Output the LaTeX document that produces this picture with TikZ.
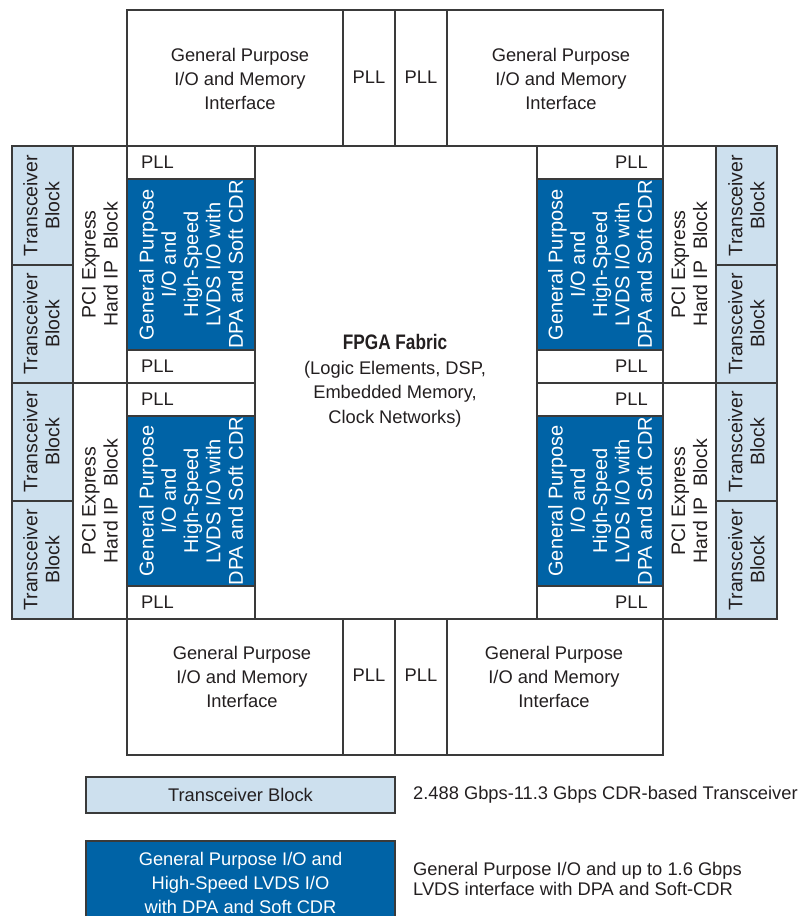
\documentclass[tikz,border=0pt]{standalone}
\usepackage{fontspec}
\setmainfont{Liberation Sans}
\newfontfamily\condfont[FakeStretch=0.82]{Liberation Sans}
\definecolor{ablue}{HTML}{0063A6}
\definecolor{lblue}{HTML}{CDE0EE}
\definecolor{lc}{HTML}{3A3A3A}
\definecolor{tc}{HTML}{231F20}
\newcommand\blk[6]{%
  \node[#6, minimum width={(#4-#2)*1pt}, minimum height={(#5-#3)*1pt}] (#1) at ({(#2+#4)/2},{(#3+#5)/2}) {};}
\begin{document}
\begin{tikzpicture}[x=1pt,y=-1pt,
  box/.style={draw=lc, line width=1.2pt, fill=white, inner sep=0pt, outer sep=0pt},
  bluebox/.style={box, fill=ablue},
  transbox/.style={box, fill=lblue, line width=1.5pt},
  txt/.style={inner sep=0pt, text=tc, font=\fontsize{18.3}{24}\selectfont, align=center},
  vtxt/.style={txt, rotate=90, font=\fontsize{19.5}{22}\selectfont},
  wtxt/.style={txt, rotate=90, text=white, font=\fontsize{20}{22.3}\selectfont},
]
\clip (0,0) rectangle (799,916);
% top row
\blk{gtl}{127}{10}{343}{146}{box}
\blk{ptl}{343}{10}{395}{146}{box}
\blk{ptr}{395}{10}{447}{146}{box}
\blk{gtr}{447}{10}{663}{146}{box}
% bottom row
\blk{gbl}{127}{619}{343}{755}{box}
\blk{pbl}{343}{619}{395}{755}{box}
\blk{pbr}{395}{619}{447}{755}{box}
\blk{gbr}{447}{619}{663}{755}{box}
% fabric
\blk{fabric}{255}{146}{537}{619}{box}
% left side
\blk{lp1}{127}{146}{255}{179}{box}
\blk{lb1}{127}{179}{255}{350}{bluebox}
\blk{lp2}{127}{350}{255}{383}{box}
\blk{lp3}{127}{383}{255}{416}{box}
\blk{lb2}{127}{416}{255}{586}{bluebox}
\blk{lp4}{127}{586}{255}{619}{box}
\blk{lpci1}{73}{146}{127}{383}{box}
\blk{lpci2}{73}{383}{127}{619}{box}
\blk{lt1}{12}{146}{73}{265}{transbox}
\blk{lt2}{12}{265}{73}{383}{transbox}
\blk{lt3}{12}{383}{73}{501}{transbox}
\blk{lt4}{12}{501}{73}{619}{transbox}
% right side
\blk{rp1}{537}{146}{663}{179}{box}
\blk{rb1}{537}{179}{663}{350}{bluebox}
\blk{rp2}{537}{350}{663}{383}{box}
\blk{rp3}{537}{383}{663}{416}{box}
\blk{rb2}{537}{416}{663}{586}{bluebox}
\blk{rp4}{537}{586}{663}{619}{box}
\blk{rpci1}{663}{146}{716}{383}{box}
\blk{rpci2}{663}{383}{716}{619}{box}
\blk{rt1}{716}{146}{777}{265}{transbox}
\blk{rt2}{716}{265}{777}{383}{transbox}
\blk{rt3}{716}{383}{777}{501}{transbox}
\blk{rt4}{716}{501}{777}{619}{transbox}
% legend
\blk{legt}{86}{777}{395}{813}{transbox}
\blk{legb}{86}{841}{395}{930}{bluebox}

% texts: top/bottom
\node[txt] (tgtl) at (240,79) {General Purpose\\I/O and Memory\\Interface};
\node[txt] (tgtr) at (561,79) {General Purpose\\I/O and Memory\\Interface};
\node[txt] (tgbl) at (242,677) {General Purpose\\I/O and Memory\\Interface};
\node[txt] (tgbr) at (554,677) {General Purpose\\I/O and Memory\\Interface};
\node[txt] (tptl) at (369,77) {PLL};
\node[txt] (tptr) at (421,77) {PLL};
\node[txt] (tpbl) at (369,675) {PLL};
\node[txt] (tpbr) at (421,675) {PLL};
% side PLLs
\node[txt, anchor=west] (tlp1) at (141,162.5) {PLL};
\node[txt, anchor=west] (tlp2) at (141,366.5) {PLL};
\node[txt, anchor=west] (tlp3) at (141,399.5) {PLL};
\node[txt, anchor=west] (tlp4) at (141,602.5) {PLL};
\node[txt, anchor=east] (trp1) at (648,162.5) {PLL};
\node[txt, anchor=east] (trp2) at (648,366.5) {PLL};
\node[txt, anchor=east] (trp3) at (648,399.5) {PLL};
\node[txt, anchor=east] (trp4) at (648,602.5) {PLL};
% blue texts
\node[wtxt] (tlb1) at (191,264.5) {General Purpose\\I/O and\\High-Speed\\LVDS I/O with\\DPA and Soft CDR};
\node[wtxt] (tlb2) at (191,501) {General Purpose\\I/O and\\High-Speed\\LVDS I/O with\\DPA and Soft CDR};
\node[wtxt] (trb1) at (600,264.5) {General Purpose\\I/O and\\High-Speed\\LVDS I/O with\\DPA and Soft CDR};
\node[wtxt] (trb2) at (600,501) {General Purpose\\I/O and\\High-Speed\\LVDS I/O with\\DPA and Soft CDR};
% PCIe texts
\node[vtxt] (tlpci1) at (100,264.5) {PCI Express\\Hard IP\ \ Block};
\node[vtxt] (tlpci2) at (100,501) {PCI Express\\Hard IP\ \ Block};
\node[vtxt] (trpci1) at (689.5,264.5) {PCI Express\\Hard IP\ \ Block};
\node[vtxt] (trpci2) at (689.5,501) {PCI Express\\Hard IP\ \ Block};
% transceiver texts
\node[vtxt] (tlt1) at (41.5,205.5) {Transceiver\\Block};
\node[vtxt] (tlt2) at (41.5,324) {Transceiver\\Block};
\node[vtxt] (tlt3) at (41.5,442) {Transceiver\\Block};
\node[vtxt] (tlt4) at (41.5,560) {Transceiver\\Block};
\node[vtxt] (trt1) at (746.5,205.5) {Transceiver\\Block};
\node[vtxt] (trt2) at (746.5,324) {Transceiver\\Block};
\node[vtxt] (trt3) at (746.5,442) {Transceiver\\Block};
\node[vtxt] (trt4) at (746.5,560) {Transceiver\\Block};
% fabric text
\node[txt, font=\fontsize{18.3}{24.5}\selectfont] (tfabric) at (395,381) {{\condfont\bfseries\fontsize{21}{24.5}\selectfont FPGA Fabric}\\(Logic Elements, DSP,\\Embedded Memory,\\Clock Networks)};
% legend texts
\node[txt] (tlegt) at (240.5,795) {Transceiver Block};
\node[txt, text=white] (tlegb) at (240.5,883) {General Purpose I/O and\\High-Speed LVDS I/O\\with DPA and Soft CDR};
\node[txt, anchor=west] (dlegt) at (413,795) {2.488 Gbps-11.3 Gbps CDR-based Transceiver};
\node[txt, anchor=west, align=left, font=\fontsize{18.3}{20}\selectfont] (dlegb) at (413,879) {General Purpose I/O and up to 1.6 Gbps\\LVDS interface with DPA and Soft-CDR};
\end{tikzpicture}
\end{document}
